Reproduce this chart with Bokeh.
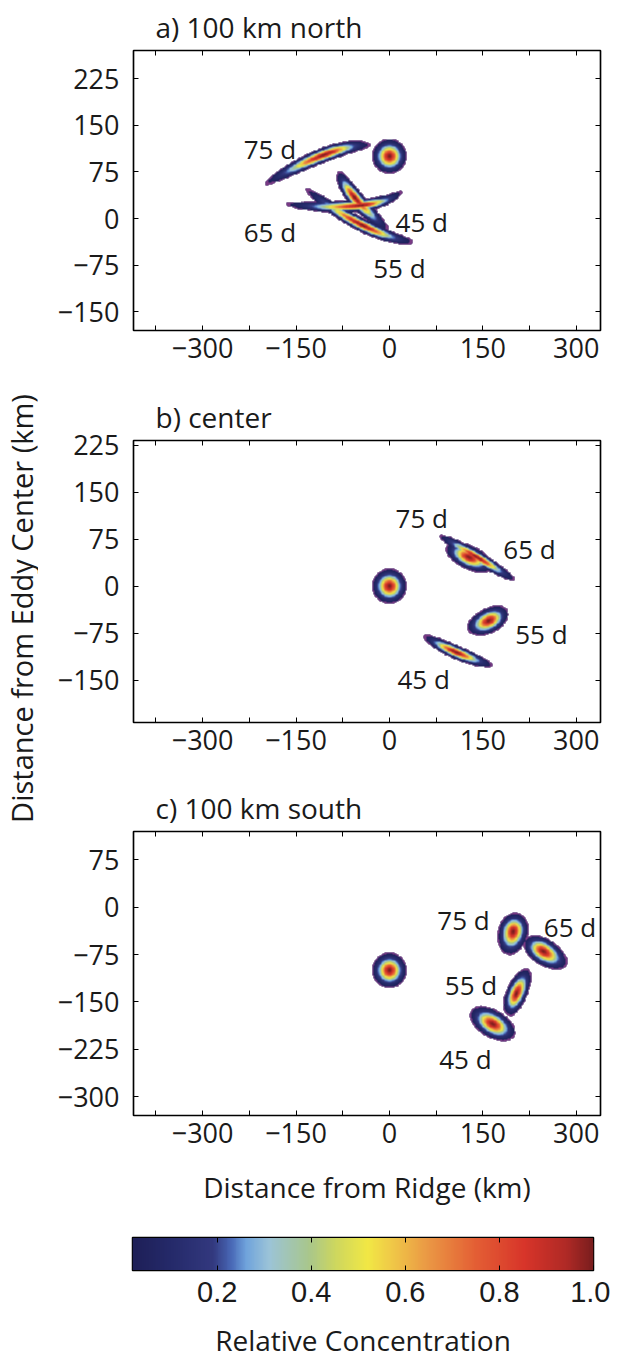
import numpy as np
from math import pi
from bokeh.plotting import figure
from bokeh.models import (LinearAxis, FixedTicker, LinearColorMapper, Range1d,
                          CustomLabelingPolicy)
from bokeh.layouts import column, row
from bokeh.core.properties import value
from bokeh.embed import file_html
from bokeh.resources import INLINE

# ---------------- data (km) ----------------
# each plume: tail start (x0,y0), peak (xp,yp), tail end (x1,y1), half width w
A_NAMES = ["source", "45 d", "55 d", "65 d", "75 d"]
A_X0 = [-28, -81, -135, -167, -200]
A_Y0 = [100, 76, 48, 23, 55]
A_XP = [0, -56, -43, -46, -103]
A_YP = [100, 34, -11, 21, 103]
A_X1 = [28, -2, 39, 20, -30]
A_Y1 = [100, -19, -38, 44, 118]
A_W = [28, 13, 11, 10, 12]
A_LAB = ["75 d", "65 d", "45 d", "55 d"]
A_LX = [-192, -192, 52, 16]
A_LY = [111, -22, -6, -80]

B_NAMES = ["source", "45 d", "55 d", "65 d", "75 d"]
B_X0 = [-28, 55, 125, 91, 80]
B_Y0 = [0, -79, -68, 63, 81]
B_XP = [0, 106, 160, 128, 141]
B_YP = [0, -105, -55, 46, 46]
B_X1 = [28, 166, 188, 165, 202]
B_Y1 = [0, -127, -36, 29, 9]
B_W = [28, 11, 20, 19, 10]
B_LAB = ["75 d", "65 d", "55 d", "45 d"]
B_LX = [52, 225, 244, 55]
B_LY = [109, 60, -77, -148]

C_NAMES = ["source", "45 d", "55 d", "65 d", "75 d"]
C_X0 = [-28, 131, 192, 217, 188]
C_Y0 = [-100, -164, -172, -52, -75]
C_XP = [0, 166, 204, 247, 199]
C_YP = [-100, -185, -137, -70, -38]
C_X1 = [28, 201, 223, 284, 204]
C_Y1 = [-100, -204, -98, -93, -9]
C_W = [28, 22, 17, 21, 24]
C_LAB = ["75 d", "65 d", "55 d", "45 d"]
C_LX = [119, 290, 131, 122]
C_LY = [-21, -32, -124, -240]

X_RANGE = (-411, 339)
A_YRANGE = (-180, 270)
B_YRANGE = (-217.5, 232.5)
C_YRANGE = (-330, 120)
X_MAJOR = [-300, -150, 0, 150, 300]
X_MINOR = [-375, -225, -75, 75, 225]
A_YTICKS = [-150, -75, 0, 75, 150, 225]
B_YTICKS = [-150, -75, 0, 75, 150, 225]
C_YTICKS = [-300, -225, -150, -75, 0, 75]
CB_TICKS = [0.2, 0.4, 0.6, 0.8, 1.0]
CB_LOW, CB_HIGH = 0.02, 1.0

# colour scale anchors (value, colour)
CMAP_V = [0.02, 0.10, 0.19, 0.23, 0.26, 0.31, 0.395, 0.45, 0.52, 0.576, 0.645, 0.75, 0.854, 0.944, 1.0]
CMAP_C = ["#1e2058", "#252a6a", "#33397f", "#4a6ab8", "#6fa3dc", "#9cc4d8", "#a9c78c",
          "#cdd760", "#f2e845", "#f0c648", "#eb9a45", "#e45f35", "#d8352a", "#b02a26", "#7a1e1e"]
EDGE_COLOR = "#8a3f8c"

FONT = "Open Sans"
TXT = "#1a1a1a"
THRESH = 0.025
EDGE_LEVEL = 0.04


def hide_labels():
    return CustomLabelingPolicy(code="return new Set()")


def hex2rgb(h):
    return [int(h[i:i + 2], 16) for i in (1, 3, 5)]


def make_palette(n=256):
    rgb = np.array([hex2rgb(c) for c in CMAP_C], float)
    vs = np.linspace(CB_LOW, CB_HIGH, n)
    out = []
    for v in vs:
        r = np.interp(v, CMAP_V, rgb[:, 0])
        g = np.interp(v, CMAP_V, rgb[:, 1])
        b = np.interp(v, CMAP_V, rgb[:, 2])
        out.append("#%02x%02x%02x" % (int(r), int(g), int(b)))
    return out


PALETTE = make_palette()


def plume_field(X, Y, x0, y0, xp, yp, x1, y1, w):
    k = np.sqrt(2 * np.log(1 / THRESH))
    cx = 2 * xp - (x0 + x1) / 2.0
    cy = 2 * yp - (y0 + y1) / 2.0
    t = np.linspace(0, 1, 121)
    bx = (1 - t) ** 2 * x0 + 2 * t * (1 - t) * cx + t ** 2 * x1
    by = (1 - t) ** 2 * y0 + 2 * t * (1 - t) * cy + t ** 2 * y1
    s = np.concatenate([[0], np.cumsum(np.hypot(np.diff(bx), np.diff(by)))])
    sp = s[60]
    stot = s[-1]
    d2 = (X[:, None] - bx[None, :]) ** 2 + (Y[:, None] - by[None, :]) ** 2
    j = np.argmin(d2, axis=1)
    d = np.sqrt(d2[np.arange(len(j)), j])
    sj = s[j]
    sig_w = w / k
    sig_a = np.where(sj < sp, max(sp, 1e-6) / k, max(stot - sp, 1e-6) / k)
    return np.exp(-0.5 * (d / sig_w) ** 2 - 0.5 * ((sj - sp) / sig_a) ** 2)


def panel_field(yr, X0, Y0, XP, YP, X1, Y1, W, res=1.25):
    xs = np.arange(X_RANGE[0], X_RANGE[1], res) + res / 2
    ys = np.arange(yr[0], yr[1], res) + res / 2
    F = np.zeros((len(ys), len(xs)))
    for i in range(len(X0)):
        w = W[i]
        xmin = min(X0[i], XP[i], X1[i]) - w - 10
        xmax = max(X0[i], XP[i], X1[i]) + w + 10
        ymin = min(Y0[i], YP[i], Y1[i]) - w - 10
        ymax = max(Y0[i], YP[i], Y1[i]) + w + 10
        ix = np.where((xs >= xmin) & (xs <= xmax))[0]
        iy = np.where((ys >= ymin) & (ys <= ymax))[0]
        if len(ix) == 0 or len(iy) == 0:
            continue
        GX, GY = np.meshgrid(xs[ix], ys[iy])
        f = plume_field(GX.ravel(), GY.ravel(), X0[i], Y0[i], XP[i], YP[i], X1[i], Y1[i], w)
        f = f.reshape(GX.shape)
        sub = F[iy[0]:iy[-1] + 1, ix[0]:ix[-1] + 1]
        F[iy[0]:iy[-1] + 1, ix[0]:ix[-1] + 1] = np.maximum(sub, f)
    F[F < THRESH] = np.nan
    return F.astype(np.float32)


def minus(v):
    return ("%g" % v).replace("-", "\u2212")


def style_axis(ax, ticks, minor, show_labels, standoff):
    ax.ticker = FixedTicker(ticks=ticks, minor_ticks=minor)
    ax.major_tick_in = 5
    ax.major_tick_out = 0
    ax.minor_tick_in = 5
    ax.minor_tick_out = 0
    ax.major_tick_line_color = "black"
    ax.minor_tick_line_color = "black"
    ax.axis_line_color = "black"
    ax.axis_line_width = 1.2
    if show_labels:
        ax.major_label_overrides = {t: minus(t) for t in ticks}
        ax.major_label_text_font = FONT
        ax.major_label_text_font_size = "27px"
        ax.major_label_text_color = TXT
        ax.major_label_standoff = standoff
    else:
        ax.major_label_policy = hide_labels()
        ax.major_label_text_font_size = "0px"
        ax.major_label_standoff = 0


def make_panel(title, yr, yticks, field, labs, lx, ly, height, top, bottom, xlabel=None):
    p = figure(width=572, height=height, x_range=Range1d(*X_RANGE), y_range=Range1d(*yr),
               output_backend="svg", toolbar_location=None,
               min_border_left=95, min_border_right=10, min_border_top=top,
               min_border_bottom=bottom)
    p.grid.visible = False
    p.outline_line_color = "black"
    p.outline_line_width = 1.5
    p.background_fill_color = "white"
    p.border_fill_color = "white"
    p.title.text = title
    p.title.text_font = FONT
    p.title.text_font_size = "28px"
    p.title.text_font_style = "normal"
    p.title.text_color = TXT
    p.title.align = "left"
    p.title.offset = 22
    p.title.standoff = 10
    bottom_ax = p.xaxis[0]
    left_ax = p.yaxis[0]
    style_axis(bottom_ax, X_MAJOR, X_MINOR, True, 7)
    style_axis(left_ax, yticks, [], True, 14)
    top_ax = LinearAxis()
    style_axis(top_ax, X_MAJOR, X_MINOR, False, 0)
    p.add_layout(top_ax, "above")
    right_ax = LinearAxis()
    style_axis(right_ax, yticks, [], False, 0)
    p.add_layout(right_ax, "right")
    if xlabel:
        bottom_ax.axis_label = xlabel
        bottom_ax.axis_label_text_font = FONT
        bottom_ax.axis_label_text_font_size = "28px"
        bottom_ax.axis_label_text_font_style = "normal"
        bottom_ax.axis_label_text_color = TXT
        bottom_ax.axis_label_standoff = 22
    mapper = LinearColorMapper(palette=PALETTE, low=CB_LOW, high=CB_HIGH,
                               nan_color="rgba(0,0,0,0)")
    p.image(image=[field], x=X_RANGE[0], y=yr[0], dw=X_RANGE[1] - X_RANGE[0],
            dh=yr[1] - yr[0], color_mapper=mapper)
    # thin outermost contour band
    edge = np.where(field < EDGE_LEVEL, 1.0, np.nan).astype(np.float32)
    edge_mapper = LinearColorMapper(palette=[EDGE_COLOR], low=0, high=2,
                                    nan_color="rgba(0,0,0,0)")
    p.image(image=[edge], x=X_RANGE[0], y=yr[0], dw=X_RANGE[1] - X_RANGE[0],
            dh=yr[1] - yr[0], color_mapper=edge_mapper, global_alpha=0.85)
    p.text(x=lx, y=ly, text=labs, text_font=value(FONT), text_font_size="26px",
           text_align="center", text_baseline="middle", text_color=TXT)
    return p


FA = panel_field(A_YRANGE, A_X0, A_Y0, A_XP, A_YP, A_X1, A_Y1, A_W)
FB = panel_field(B_YRANGE, B_X0, B_Y0, B_XP, B_YP, B_X1, B_Y1, B_W)
FC = panel_field(C_YRANGE, C_X0, C_Y0, C_XP, C_YP, C_X1, C_Y1, C_W)

pa = make_panel("a) 100 km north", A_YRANGE, A_YTICKS, FA, A_LAB, A_LX, A_LY, 380, 46, 50)
pb = make_panel("b) center", B_YRANGE, B_YTICKS, FB, B_LAB, B_LX, B_LY, 390, 60, 48)
pc = make_panel("c) 100 km south", C_YRANGE, C_YTICKS, FC, C_LAB, C_LX, C_LY, 445, 61, 100,
                xlabel="Distance from Ridge (km)")

# y-axis label spanning the three panels
LH = 380 + 390 + 445
pl = figure(width=38, height=LH, x_range=Range1d(0, 38), y_range=Range1d(0, LH),
            output_backend="svg", toolbar_location=None, min_border=0,
            x_axis_type=None, y_axis_type=None)
pl.outline_line_color = None
pl.grid.visible = False
pl.text(x=[21], y=[LH - 608], text=["Distance from Eddy Center (km)"], angle=pi / 2,
        text_font=value(FONT), text_font_size="29px", text_align="center",
        text_baseline="middle", text_color=TXT)

# colour bar
cb = figure(width=610, height=146, x_range=Range1d(CB_LOW, CB_HIGH), y_range=Range1d(0, 1),
            output_backend="svg", toolbar_location=None, min_border_left=132,
            min_border_right=17, min_border_top=22, min_border_bottom=79, y_axis_type=None)
cb.grid.visible = False
cb.outline_line_color = "black"
cb.outline_line_width = 1.5
cb_mapper = LinearColorMapper(palette=PALETTE, low=CB_LOW, high=CB_HIGH)
grad = np.linspace(CB_LOW, CB_HIGH, 256)[None, :]
cb.image(image=[grad], x=CB_LOW, y=0, dw=CB_HIGH - CB_LOW, dh=1, color_mapper=cb_mapper)
cax = cb.xaxis[0]
cax.ticker = FixedTicker(ticks=CB_TICKS)
cax.major_label_overrides = {t: "%.1f" % t for t in CB_TICKS}
cax.major_tick_in = 5
cax.major_tick_out = 0
cax.minor_tick_line_color = None
cax.axis_line_color = "black"
cax.major_label_text_font = "Liberation Sans"
cax.major_label_text_font_size = "29px"
cax.major_label_text_color = TXT
cax.major_label_standoff = 11
cax.axis_label = "Relative Concentration"
cax.axis_label_text_font = FONT
cax.axis_label_text_font_size = "28px"
cax.axis_label_text_font_style = "normal"
cax.axis_label_text_color = TXT
cax.axis_label_standoff = 16
ctop = LinearAxis(ticker=FixedTicker(ticks=CB_TICKS), major_tick_in=5, major_tick_out=0,
                  minor_tick_line_color=None, major_label_policy=hide_labels(),
                  major_label_text_font_size="0px", major_label_standoff=0)
cb.add_layout(ctop, "above")

layout = column(row(pl, column(pa, pb, pc)), cb)
open("out.html", "w").write(file_html(layout, INLINE))
